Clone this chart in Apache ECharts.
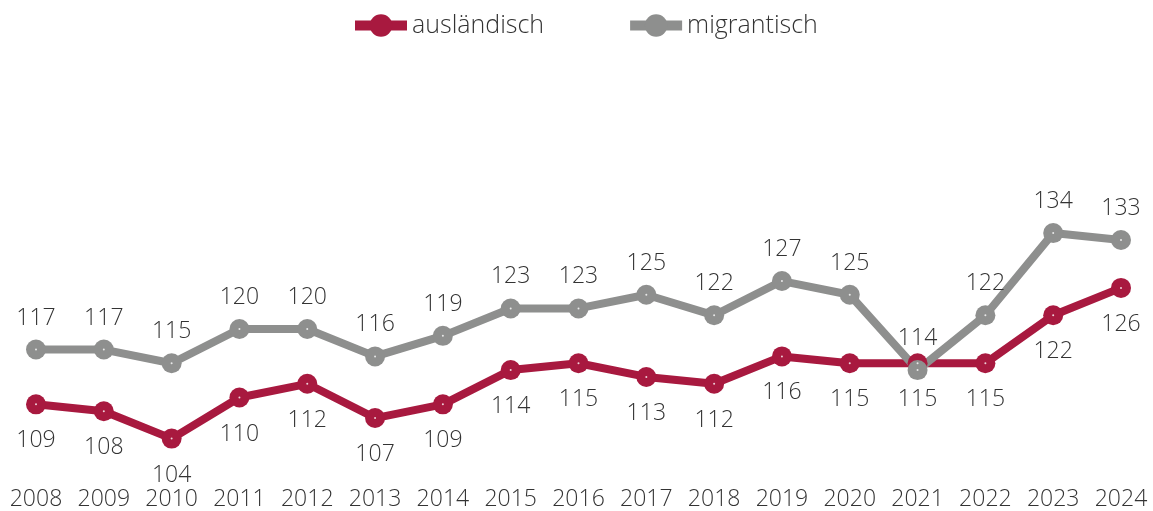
<!DOCTYPE html>
<html><head><meta charset="utf-8">
<script src="https://cdn.jsdelivr.net/npm/echarts@6/dist/echarts.min.js"></script>
<style>html,body{margin:0;padding:0;background:#fff}#c{width:1153px;height:511px}</style>
</head><body><div id="c"></div>
<script>
var years = ['2008','2009','2010','2011','2012','2013','2014','2015','2016','2017','2018','2019','2020','2021','2022','2023','2024'];
var auslaendisch = [109,108,104,110,112,107,109,114,115,113,112,116,115,115,115,122,126];
var migrantisch = [117,117,115,120,120,116,119,123,123,125,122,127,125,114,122,134,133];
var RED = '#A8193F', GRAY = '#8E8F8E';
var FONT = '"Open Sans", "Noto Sans", sans-serif';
var chart = echarts.init(document.getElementById('c'));
function lineSeries(name, data, color, pos, dist) {
  return {
    name: name, type: 'line', data: data, z: 2,
    lineStyle: {color: color, width: 8},
    itemStyle: {color: color},
    symbol: 'circle', symbolSize: 20, showAllSymbol: true,
    label: {show: true, position: pos, distance: dist, color: '#333', fontSize: 23, fontFamily: FONT, fontWeight: 300},
    emphasis: {disabled: true}, animation: false
  };
}
function dots(data) {
  return {type: 'scatter', data: data, symbol: 'circle', symbolSize: 2, z: 5, itemStyle: {color: '#fff'}, silent: true, animation: false};
}
chart.setOption({
  animation: false,
  legend: {
    top: 8, left: 345, itemWidth: 52, itemHeight: 28, itemGap: 81,
    lineStyle: {width: 10},
    textStyle: {fontSize: 25, fontFamily: FONT, fontWeight: 300, color: '#333'},
    data: ['ausländisch', 'migrantisch']
  },
  grid: {left: 36, right: 32, top: 192, bottom: 45},
  xAxis: {
    type: 'category', data: years, boundaryGap: false,
    axisLine: {show: false}, axisTick: {show: false}, splitLine: {show: false},
    axisLabel: {fontSize: 23, fontFamily: FONT, fontWeight: 300, color: '#333', margin: 22, interval: 0}
  },
  yAxis: {type: 'value', min: 100, max: 140, show: false, splitLine: {show: false}},
  series: [
    lineSeries('ausländisch', auslaendisch, RED, 'bottom', 15),
    lineSeries('migrantisch', migrantisch, GRAY, 'top', 10),
    dots(auslaendisch), dots(migrantisch)
  ]
});
</script></body></html>
